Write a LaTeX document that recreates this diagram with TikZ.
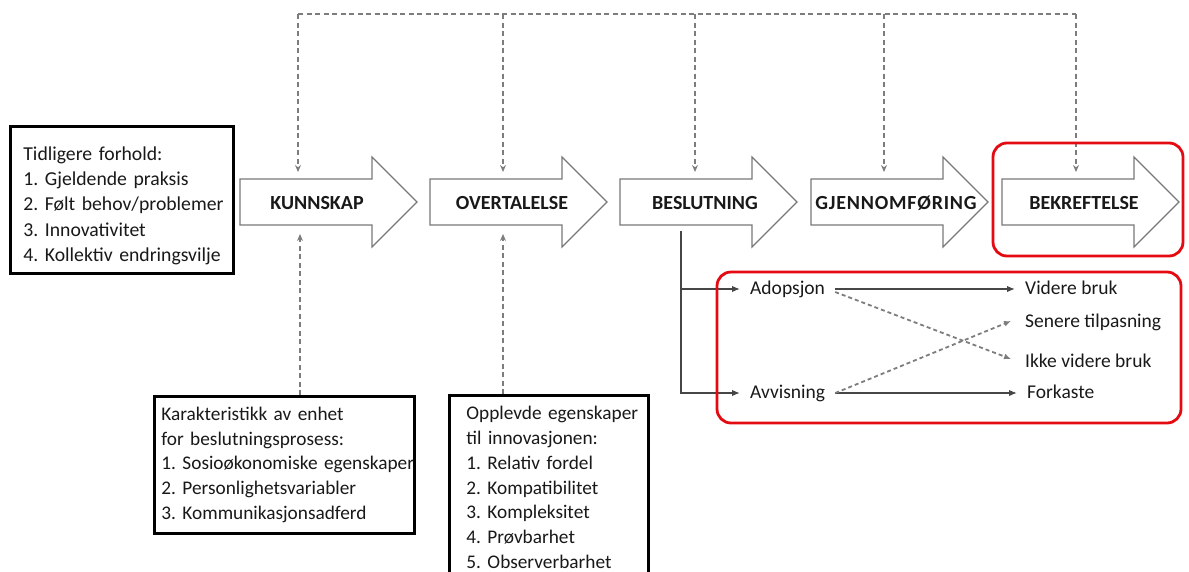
\documentclass[tikz,border=0pt]{standalone}
\usepackage{fontspec}
\setmainfont{Carlito}
\usetikzlibrary{arrows.meta}
\definecolor{framered}{RGB}{228,10,18}
\definecolor{outlinegray}{RGB}{120,120,120}
\definecolor{dashgray}{RGB}{125,125,125}
\definecolor{flowgray}{RGB}{70,70,70}
% one unbreakable line of box text
\newcommand\boxline[1]{\mbox{#1}}
\begin{document}
\begin{tikzpicture}[x=1pt,y=-1pt,
  plain/.style={font=\fontsize{19.5}{25}\selectfont\frenchspacing, text=black!90},
  infobox/.style={plain, draw=black, line width=2.8pt, fill=white, align=left,
    anchor=north west, inner ysep=0pt},
  stagelabel/.style={font=\bfseries\fontsize{20}{24}\selectfont, text=black!90, inner sep=0pt},
  stageoutline/.style={draw=outlinegray, line width=1.1pt, fill=white},
  busline/.style={draw=dashgray, line width=1.6pt, dash pattern=on 5pt off 3.5pt},
  feedback/.style={busline, -{Stealth[length=7pt,width=6pt]}},
  outcome/.style={plain, anchor=west, inner xsep=10pt, inner ysep=0pt,
    text height=14pt, text depth=4pt},
  flowline/.style={draw=flowgray, line width=1.5pt, -{Latex[length=8pt,width=6.5pt]}},
  crossline/.style={draw=dashgray, line width=1.8pt, dash pattern=on 4pt off 3pt,
    -{Latex[length=7pt,width=6pt]}},
  redframe/.style={draw=framered, line width=2.8pt, rounded corners=14pt},
  stage/.pic={\path[stageoutline] (0,-23) -- (132,-23) -- (132,-45) -- (177,0)
    -- (132,45) -- (132,23) -- (0,23) -- cycle;}
]
\useasboundingbox (0,0) rectangle (1189,571);
\clip (0,0) rectangle (1189,571);

% the five stages of the process
\pic at (240,202) {stage};
\pic at (430,202) {stage};
\pic at (620,202) {stage};
\pic at (811,202) {stage};
\pic at (1002,202) {stage};
\node[stagelabel] (kunnskap)     at (317,203)  {KUNNSKAP};
\node[stagelabel] (overtalelse)  at (512,203)  {OVERTALELSE};
\node[stagelabel] (beslutning)   at (705,203)  {BESLUTNING};
\node[stagelabel] (gjennomforing) at (896,203) {\addfontfeature{LetterSpace=4}GJENNOMFØRING};
\node[stagelabel] (bekreftelse)  at (1084,203) {BEKREFTELSE};

% attachment points on the stage arrows
\coordinate (kunnskap-top)   at (298,172);
\coordinate (overtalelse-top) at (503,172);
\coordinate (beslutning-top) at (695,172);
\coordinate (gjennom-top)    at (884,172);
\coordinate (bekreft-top)    at (1076,172);
\coordinate (kunnskap-bot)   at (300,234);
\coordinate (overtalelse-bot) at (503,234);
\coordinate (beslutning-bot) at (681,231);

% feedback bus along the top
\coordinate (bus1) at (298,14);
\coordinate (bus2) at (503,14);
\coordinate (bus3) at (695,14);
\coordinate (bus4) at (884,14);
\coordinate (bus5) at (1076,14);
\draw[busline] (bus1) -- (bus5);
\draw[feedback] (bus1) -- (kunnskap-top);
\draw[feedback] (bus2) -- (overtalelse-top);
\draw[feedback] (bus3) -- (beslutning-top);
\draw[feedback] (bus4) -- (gjennom-top);
\draw[feedback] (bus5) -- (bekreft-top);

% conditions and characteristics
\node[infobox, minimum width=223pt, minimum height=147pt, inner xsep=13pt,
  text width=197pt, font=\fontsize{19.7}{25.3}\selectfont\frenchspacing] (prior) at (9,125)
  {\boxline{\rule{0pt}{25pt}Tidligere forhold:}\\\boxline{1. Gjeldende praksis}\\\boxline{2. Følt behov/problemer}\\\boxline{3. Innovativitet}\\\boxline{4. Kollektiv endringsvilje}};

\node[infobox, minimum width=260pt, minimum height=137pt, inner xsep=7pt,
  text width=246pt, font=\fontsize{19.3}{24.8}\selectfont\frenchspacing] (unit) at (153,395)
  {\boxline{Karakteristikk av enhet}\\\boxline{for beslutningsprosess:}\\\makebox[246pt][l]{1. Sosioøkonomiske egenskaper}\\\boxline{2. Personlighetsvariabler}\\\boxline{3. Kommunikasjonsadferd}};

\node[infobox, minimum width=199pt, minimum height=184pt, inner xsep=17pt,
  text width=165pt, font=\fontsize{19.3}{24.85}\selectfont\frenchspacing] (traits) at (448,394)
  {\boxline{Opplevde egenskaper}\\\boxline{til innovasjonen:}\\\boxline{1. Relativ fordel}\\\boxline{2. Kompatibilitet}\\\boxline{3. Kompleksitet}\\\boxline{4. Prøvbarhet}\\\boxline{5. Observerbarhet}};

\draw[feedback] (unit.north -| kunnskap-bot) -- (kunnskap-bot);
\draw[feedback] (traits.north -| overtalelse-bot) -- (overtalelse-bot);

% outcomes of the decision
\node[outcome] (adopsjon)  at (740,289) {Adopsjon};
\node[outcome] (avvisning) at (740,393) {Avvisning};
\node[outcome] (videre)    at (1015,289) {Videre bruk};
\node[outcome] (senere)    at (1015,322) {Senere tilpasning};
\node[outcome] (ikke)      at (1015,362) {Ikke videre bruk};
\node[outcome] (forkaste)  at (1017,393) {Forkaste};

\draw[flowline] (beslutning-bot) |- (adopsjon.west);
\draw[flowline] (beslutning-bot) |- (avvisning.west);
\draw[flowline] (adopsjon.east) -- (videre.west);
\draw[flowline] (avvisning.east) -- (forkaste.west);
\draw[crossline] (adopsjon.east) ++(0,3) -- ([xshift=-4pt,yshift=3pt]ikke.west);
\draw[crossline] (avvisning.east) -- ([xshift=-4pt,yshift=1pt]senere.west);

% highlighted frames
\draw[redframe] (993,143) rectangle (1183,256);
\draw[redframe] (717,272) rectangle (1181,423);
\end{tikzpicture}
\end{document}
